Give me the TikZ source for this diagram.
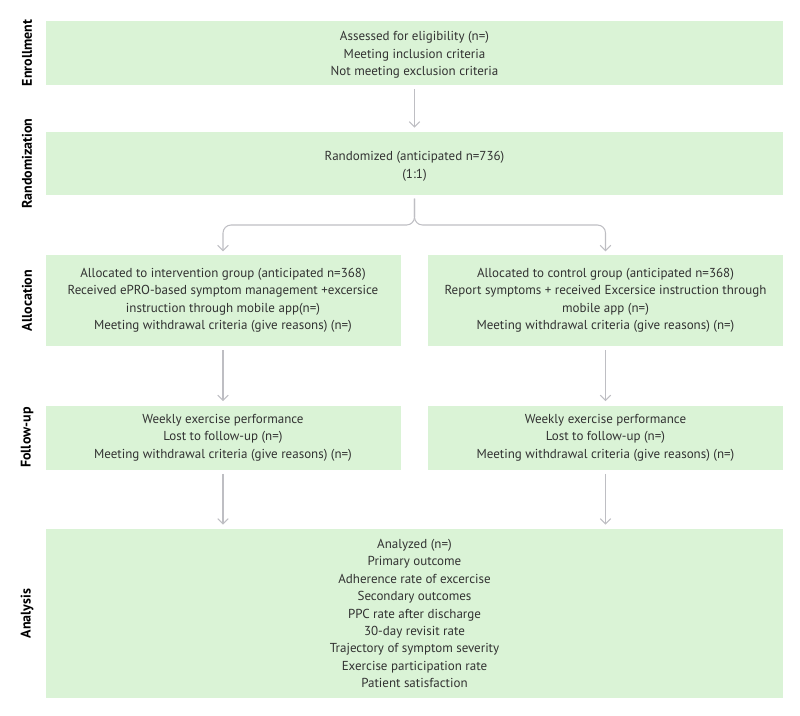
\documentclass[tikz,border=0pt]{standalone}
\usepackage{fontspec}
\setmainfont{PT Sans}
\usetikzlibrary{arrows.meta}
\definecolor{boxgreen}{RGB}{218,243,214}
\definecolor{txt}{RGB}{50,50,50}
\definecolor{arr}{RGB}{190,190,195}
\begin{document}
\begin{tikzpicture}[x=0.75pt,y=-0.75pt,
  box/.style={fill=boxgreen, draw=none, inner sep=0pt, align=center, text=txt,
    font=\fontsize{9.75}{13.1}\selectfont},
  side/.style={rotate=90, font=\fontsize{10.5}{12}\selectfont\bfseries, text=black, inner sep=0pt},
  flow/.style={draw=arr, line width=0.8pt, -{Straight Barb[length=4pt,width=8pt]}, rounded corners=6pt}]
\useasboundingbox (0,0) rectangle (800,715);
\node[box, minimum width=737*0.75pt, minimum height=64*0.75pt] (enr) at (414.5,53)
  {\rule{0pt}{3pt}\\[-6pt]Assessed for eligibility (n=)\\Meeting inclusion criteria\\Not meeting exclusion criteria};
\node[box, minimum width=737*0.75pt, minimum height=63*0.75pt] (rand) at (414.5,163.5)
  {\rule{0pt}{3pt}\\[-5pt]Randomized (anticipated n=736)\\(1:1)};
\node[box, minimum width=355*0.75pt, minimum height=91*0.75pt] (allocL) at (223,300.5)
  {Allocated to intervention group (anticipated n=368)\\Received ePRO-based symptom management +excersice\\instruction through mobile app(n=)\\Meeting withdrawal criteria (give reasons) (n=)};
\node[box, minimum width=355*0.75pt, minimum height=91*0.75pt] (allocR) at (605.5,300.5)
  {Allocated to control group (anticipated n=368)\\Report symptoms + received Excersice instruction through\\mobile app (n=)\\Meeting withdrawal criteria (give reasons) (n=)};
\node[box, minimum width=355*0.75pt, minimum height=64*0.75pt] (fuL) at (223,437.5)
  {Weekly exercise performance\\Lost to follow-up (n=)\\Meeting withdrawal criteria (give reasons) (n=)};
\node[box, minimum width=355*0.75pt, minimum height=64*0.75pt] (fuR) at (605.5,437.5)
  {Weekly exercise performance\\Lost to follow-up (n=)\\Meeting withdrawal criteria (give reasons) (n=)};
\node[box, minimum width=737*0.75pt, minimum height=169*0.75pt] (ana) at (414.5,613.5)
  {Analyzed (n=)\\Primary outcome\\Adherence rate of excercise\\Secondary outcomes\\PPC rate after discharge\\30-day revisit rate\\Trajectory of symptom severity\\Exercise participation rate\\Patient satisfaction};
\node[side] (lEnr) at (27,53) {Enrollment};
\node[side] (lRand) at (27,163.5) {Randomization};
\node[side] (lAlloc) at (27,300.5) {Allocation};
\node[side] (lFu) at (27,437.5) {Follow-up};
\node[side] (lAna) at (27,613.5) {Analysis};
\draw[flow, shorten <=3pt, shorten >=3pt] (enr.south) -- (rand.north);
\coordinate (split) at (414.5,225);
\draw[flow, shorten >=2.5pt] ([yshift=-2.5pt]rand.south) -- (split) -| (allocL.north);
\draw[flow, shorten >=2.5pt] ([yshift=-2.5pt]rand.south) -- (split) -| (allocR.north);
\draw[flow, shorten <=3pt, shorten >=3pt] (allocL.south) -- (fuL.north);
\draw[flow, shorten <=3pt, shorten >=3pt] (allocR.south) -- (fuR.north);
\draw[flow, shorten <=3pt, shorten >=3pt] (fuL.south) -- (fuL.south |- ana.north);
\draw[flow, shorten <=3pt, shorten >=3pt] (fuR.south) -- (fuR.south |- ana.north);
\end{tikzpicture}
\end{document}
